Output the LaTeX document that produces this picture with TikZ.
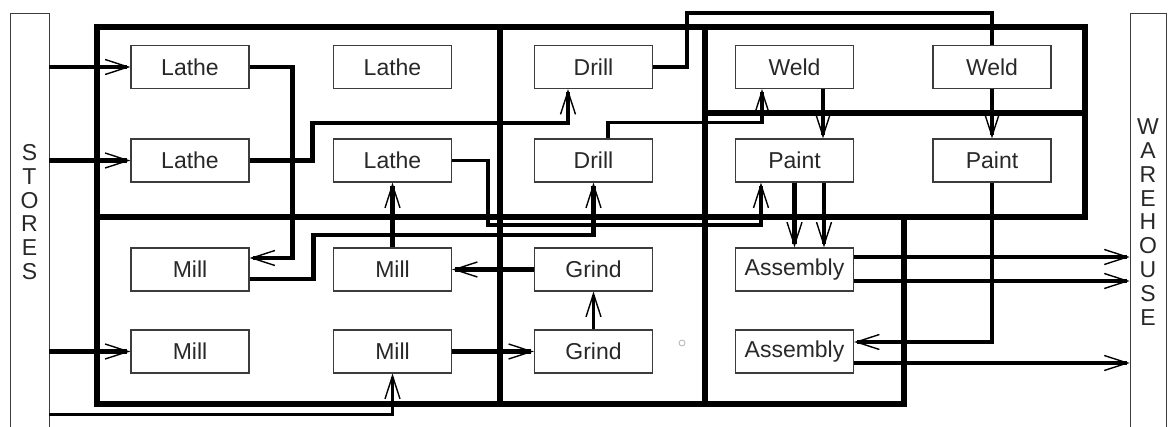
\documentclass[tikz,border=0pt]{standalone}
\usepackage{fontspec}
\setmainfont{Liberation Sans}
\usepackage{tikz}
\usetikzlibrary{arrows.meta}
\definecolor{boxgray}{RGB}{60,60,60}
\definecolor{inkgray}{RGB}{40,40,40}

\begin{document}
\begin{tikzpicture}[
    x=1pt, y=-1pt,
    st/.style={draw=boxgray, line width=1.2pt, minimum width=118pt,
               minimum height=43pt, inner sep=0pt, text=inkgray,
               font=\fontsize{23}{27}\selectfont},
    side/.style={draw=boxgray, line width=0.9pt, minimum height=420pt, inner sep=0pt},
    sidetxt/.style={align=center, text=inkgray, inner sep=0pt,
                    font=\fontsize{23}{23.8}\selectfont},
    dept/.style={line width=5.5pt},
    flow/.style={line width=4.8pt},
    flowthin/.style={line width=3.4pt},
    arr/.style={-{Straight Barb[length=23pt, width=15pt, line width=1.4pt]}},
  ]
  \useasboundingbox (0,0) rectangle (1168,427);
  \clip (0,0) rectangle (1168,427);

  % stores and warehouse
  \node[side, minimum width=39pt] (stores) at (29.5,223) {};
  \node[sidetxt] (storestxt) at (29.5,212) {S\\T\\O\\R\\E\\S};
  \node[side, minimum width=36pt] (house) at (1148,223) {};
  \node[sidetxt] (housetxt) at (1148,222) {W\\A\\R\\E\\H\\O\\U\\S\\E};

  % departments
  \draw[dept] (97,27) rectangle (500,404);
  \draw[dept] (500,27) rectangle (705,404);
  \draw[dept] (705,27) rectangle (1085,217);
  \draw[dept] (705,217) rectangle (904,404);
  \draw[dept] (97,217) -- (705,217);
  \draw[dept] (705,113) -- (1085,113);

  % machines
  \node[st] (latheA) at (190,67)    {Lathe};
  \node[st] (latheB) at (392.5,67)  {Lathe};
  \node[st] (drillA) at (593.5,67)  {Drill};
  \node[st] (weldA)  at (794.5,67)  {Weld};
  \node[st] (weldB)  at (992,67)    {Weld};
  \node[st] (latheC) at (190,160.5)   {Lathe};
  \node[st] (latheD) at (392.5,160.5) {Lathe};
  \node[st] (drillB) at (593.5,160.5) {Drill};
  \node[st] (paintA) at (794.5,160.5) {Paint};
  \node[st] (paintB) at (992,160.5)   {Paint};
  \node[st] (millA)  at (190,269.5)   {Mill};
  \node[st] (millB)  at (392.5,269.5) {Mill};
  \node[st] (grindA) at (593.5,269.5) {Grind};
  \node[st] (asmA)   at (794.5,269.5) {Assembly};
  \node[st] (millC)  at (190,351.5)   {Mill};
  \node[st] (millD)  at (392.5,351.5) {Mill};
  \node[st] (grindB) at (593.5,351.5) {Grind};
  \node[st] (asmB)   at (794.5,351.5) {Assembly};
  \node[circle, draw=black!30, line width=0.8pt, minimum size=6pt, inner sep=0pt] (speck) at (682,343) {};

  % from stores
  \draw[flow,arr] (stores.east |- latheA.west) -- (latheA.west);
  \draw[flow,arr] (stores.east |- latheC.west) -- (latheC.west);
  \draw[flow,arr] (stores.east |- millC.west) -- (millC.west);
  \coordinate (millDin) at ([yshift=-41pt]millD.south);
  \draw[flowthin,arr] (stores.east |- millDin) -- (millDin) -- (millD.south);

  % lathe and mill routes
  \draw[flow,arr] (latheA.east) -| ([xshift=43pt,yshift=11.5pt]millA.east)
    -- ([yshift=11.5pt]millA.east);
  \draw[flow,arr] (latheC.east) -- ++(63,0) -- ++(0,-37.5)
    -| ([xshift=-25.5pt]drillA.south);
  \draw[flow,arr] ([yshift=-9.5pt]millA.east) -- ++(64,0) -- ++(0,-44)
    -| (drillB.south);
  \draw[flow,arr] (millB.north) -- (latheD.south);
  \draw[flow,arr] (grindA.west) -- (millB.east);
  \draw[flowthin,arr] (grindB.north) -- (grindA.south);
  \draw[flow,arr] (millD.east) -- (grindB.west);
  \draw[flowthin,arr] (latheD.east) -- ++(36,0) -- ++(0,64.5)
    -| ([xshift=-33.5pt]paintA.south);

  % drill, weld and paint routes
  \draw[flowthin,arr] ([xshift=14.5pt]drillB.north) -- ++(0,-16)
    -| ([xshift=-32.5pt]weldA.south);
  \draw[flowthin] (drillA.east) -- ++(34,0) -- ++(0,-54) -| (weldB.north);
  \draw[flowthin,arr] ([xshift=28.5pt]weldA.south) -- ([xshift=28.5pt]paintA.north);
  \draw[flowthin,arr] (weldB.south) -- (paintB.north);
  \draw[flow,arr] (paintA.south) -- (asmA.north);
  \draw[flowthin,arr] ([xshift=29.5pt]paintA.south) -- ([xshift=29.5pt]asmA.north);
  \draw[flowthin,arr] (paintB.south) |- ([yshift=9.5pt]asmB.east);

  % to warehouse
  \coordinate (asmAup) at ([yshift=12.5pt]asmA.east);
  \coordinate (asmAlo) at ([yshift=-11.5pt]asmA.east);
  \coordinate (asmBlo) at ([yshift=-11.5pt]asmB.east);
  \draw[flow,arr] (asmAup) -- (asmAup -| house.west);
  \draw[flowthin,arr] (asmAlo) -- (asmAlo -| house.west);
  \draw[flow,arr] (asmBlo) -- (asmBlo -| house.west);
\end{tikzpicture}
\end{document}
